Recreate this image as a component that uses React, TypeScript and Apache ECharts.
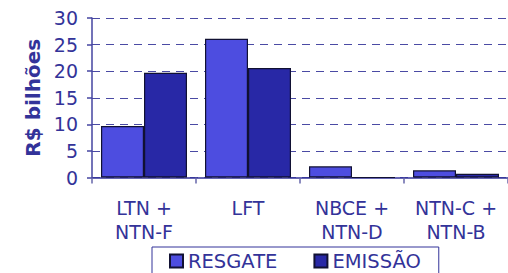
import React, { useEffect, useRef } from "react";
import * as echarts from "echarts";

const categories = ["LTN +\nNTN-F", "LFT", "NBCE +\nNTN-D", "NTN-C +\nNTN-B"];
const resgate = [9.7, 26.1, 2.1, 1.35];
const emissao = [19.7, 20.6, 0, 0.7];
const yTicks = { min: 0, max: 30, interval: 5 };

const TEXT = "#333399";
const FONT = "DejaVu Sans, Verdana, sans-serif";

export default function App() {
  const ref = useRef<HTMLDivElement>(null);
  useEffect(() => {
    if (!ref.current) return;
    const chart = echarts.init(ref.current, undefined, { renderer: "svg" });
    chart.setOption({
      animation: false,
      backgroundColor: "#ffffff",
      textStyle: { fontFamily: FONT },
      grid: { left: 92, top: 18, width: 424, bottom: 95.5, containLabel: false },
      legend: {
        data: ["RESGATE", "EMISSÃO"],
        left: 152,
        top: 247,
        width: 301,
        padding: [4, 18, 10, 17],
        itemGap: 36,
        itemWidth: 13,
        itemHeight: 13,
        icon: "rect",
        borderColor: "#333399",
        borderWidth: 1,
        textStyle: { color: TEXT, fontSize: 19.5, lineHeight: 16, fontFamily: FONT, padding: [0, 0, 0, 0] },
      },
      xAxis: {
        type: "category",
        data: categories,
        boundaryGap: true,
        axisLine: { show: true, lineStyle: { color: "#333399", width: 1.5 } },
        axisTick: { show: true, alignWithLabel: false, interval: 0, length: 6, lineStyle: { color: "#6666aa", width: 1.5 } },
        axisLabel: { color: TEXT, fontSize: 19, lineHeight: 24, margin: 18, interval: 0, fontFamily: FONT },
        splitLine: { show: false },
      },
      yAxis: {
        type: "value",
        min: yTicks.min,
        max: yTicks.max,
        interval: yTicks.interval,
        name: "R$ bilhões",
        nameLocation: "middle",
        nameGap: 44,
        nameTextStyle: { color: TEXT, fontSize: 20, fontWeight: "bold", fontFamily: FONT },
        axisLine: { show: true, lineStyle: { color: "#4444a0", width: 1.5 } },
        axisTick: { show: true, length: 5, lineStyle: { color: "#4444a0", width: 1.5 } },
        axisLabel: { color: TEXT, fontSize: 19, margin: 14, fontFamily: FONT },
        splitLine: { show: true, lineStyle: { color: "#4a4aa4", width: 1.2, type: [8, 6] } },
      },
      series: [
        {
          name: "RESGATE",
          type: "bar",
          data: resgate,
          barWidth: 43,
          barGap: "0%",
          itemStyle: { color: "#4d4de0", borderColor: "#111133", borderWidth: 1.2 },
        },
        {
          name: "EMISSÃO",
          type: "bar",
          data: emissao,
          barWidth: 43,
          barGap: "0%",
          itemStyle: { color: "#2828a6", borderColor: "#111133", borderWidth: 1.2 },
        },
      ],
    });
    return () => chart.dispose();
  }, []);
  return (
    <div
      ref={ref}
      style={{ position: "absolute", left: 0, top: 0, width: 508, height: 273, overflow: "hidden" }}
    />
  );
}
